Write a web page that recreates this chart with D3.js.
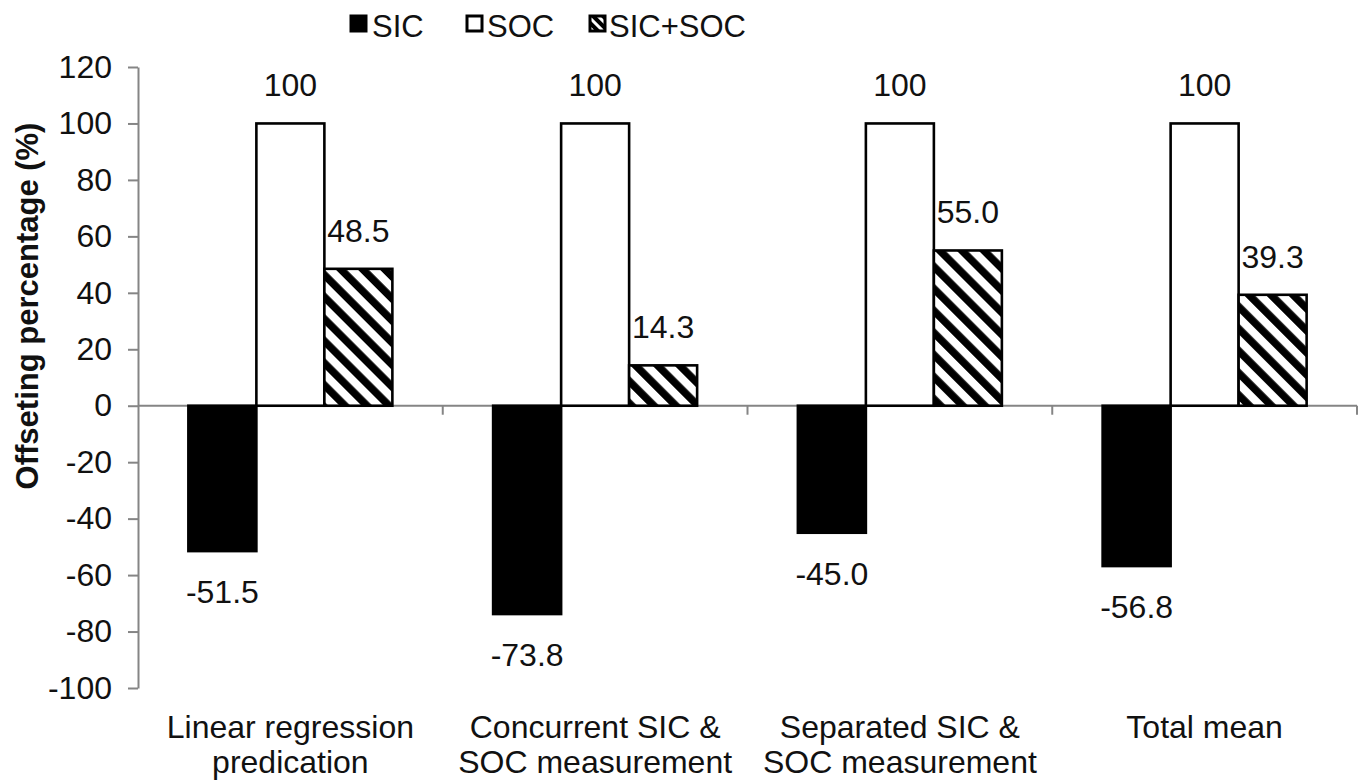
<!DOCTYPE html>
<html>
<head>
<meta charset="utf-8">
<script src="https://cdn.jsdelivr.net/npm/d3@7"></script>
<style>
  html, body { margin: 0; padding: 0; background: #fff; }
  svg { display: block; }
  text { font-family: "Liberation Sans", Arial, sans-serif; fill: #111; }
</style>
</head>
<body>
<svg id="chart" width="1360" height="782"></svg>
<script>
// Offsetting percentage by estimation approach
const categories = [
  ["Linear regression", "predication"],
  ["Concurrent SIC &", "SOC measurement"],
  ["Separated SIC &", "SOC measurement"],
  ["Total mean"]
];
const seriesNames = ["SIC", "SOC", "SIC+SOC"];
const sicValues = [-51.5, -73.8, -45.0, -56.8];
const socValues = [100, 100, 100, 100];
const sumValues = [48.5, 14.3, 55.0, 39.3];
const yTicks = [-100, -80, -60, -40, -20, 0, 20, 40, 60, 80, 100, 120];

const seriesValues = [sicValues, socValues, sumValues];

const svg = d3.select("#chart");
const plot = { left: 138, right: 1357, top: 67, bottom: 688 };
const axisColor = "#858585";

// hatch pattern for the combined series
const defs = svg.append("defs");
const pat = defs.append("pattern")
  .attr("id", "hatch")
  .attr("patternUnits", "userSpaceOnUse")
  .attr("width", 15.6).attr("height", 15.6)
  .attr("patternTransform", "rotate(-45)");
pat.append("rect").attr("width", 15.6).attr("height", 15.6).attr("fill", "#fff");
pat.append("rect").attr("x", 0).attr("y", 0).attr("width", 7.6).attr("height", 15.6).attr("fill", "#000");

const patS = defs.append("pattern")
  .attr("id", "hatchSmall")
  .attr("patternUnits", "userSpaceOnUse")
  .attr("width", 7).attr("height", 7)
  .attr("patternTransform", "rotate(-45)");
patS.append("rect").attr("width", 7).attr("height", 7).attr("fill", "#fff");
patS.append("rect").attr("width", 4).attr("height", 7).attr("fill", "#000");

const fills = { "SIC": "#000", "SOC": "#fff", "SIC+SOC": "url(#hatch)" };
const legendFills = { "SIC": "#000", "SOC": "#fff", "SIC+SOC": "url(#hatchSmall)" };

// plain hyphen for negative numbers
const fmtInt = d => String(d);
const fmt1 = d => d.toFixed(1);

const x = d3.scaleBand()
  .domain(d3.range(categories.length))
  .range([plot.left, plot.right])
  .padding(0);

const groupWidth = 204;
const xs = d3.scaleBand()
  .domain(seriesNames)
  .range([(x.bandwidth() - groupWidth) / 2, (x.bandwidth() + groupWidth) / 2])
  .padding(0);

const y = d3.scaleLinear().domain([-100, 120]).range([plot.bottom, plot.top]);

// y axis
const yAxis = svg.append("g")
  .attr("transform", `translate(${plot.left},0)`)
  .call(d3.axisLeft(y).tickValues(yTicks).tickFormat(fmtInt)
    .tickSize(10).tickPadding(16).tickSizeOuter(0));
yAxis.select(".domain").attr("stroke", axisColor).attr("stroke-width", 2);
yAxis.selectAll(".tick line").attr("stroke", axisColor).attr("stroke-width", 2);
yAxis.selectAll(".tick text")
  .style("font-size", "32px")
  .style("font-family", "'Liberation Sans', Arial, sans-serif")
  .attr("fill", "#111");

// x axis along zero line, ticks between categories
const boundaries = d3.range(categories.length + 1).map(i =>
  i < categories.length ? x(i) : x(i - 1) + x.bandwidth());
const xAxisG = svg.append("g");
xAxisG.append("line")
  .attr("x1", plot.left).attr("x2", plot.right)
  .attr("y1", y(0)).attr("y2", y(0))
  .attr("stroke", axisColor).attr("stroke-width", 2);
xAxisG.selectAll("line.sep")
  .data(boundaries.slice(1))
  .join("line")
  .attr("class", "sep")
  .attr("x1", d => d).attr("x2", d => d)
  .attr("y1", y(0)).attr("y2", y(0) + 9)
  .attr("stroke", axisColor).attr("stroke-width", 2);

// bars
const flat = [];
categories.forEach((c, i) => {
  seriesNames.forEach((s, j) => {
    flat.push({ cat: i, series: s, value: seriesValues[j][i] });
  });
});

svg.append("g").selectAll("rect")
  .data(flat)
  .join("rect")
  .attr("x", d => x(d.cat) + xs(d.series))
  .attr("width", xs.bandwidth())
  .attr("y", d => y(Math.max(0, d.value)))
  .attr("height", d => Math.abs(y(d.value) - y(0)))
  .attr("fill", d => fills[d.series])
  .attr("stroke", "#000")
  .attr("stroke-width", 2.6);

// value labels
svg.append("g").selectAll("text")
  .data(flat)
  .join("text")
  .attr("x", d => x(d.cat) + xs(d.series) + xs.bandwidth() / 2)
  .attr("y", d => d.value >= 0 ? y(d.value) - 27 : y(d.value) + 52)
  .attr("text-anchor", "middle")
  .style("font-size", "32px")
  .text(d => d.series === "SOC" ? fmtInt(d.value) : fmt1(d.value));

// category labels
const catG = svg.append("g");
categories.forEach((lines, i) => {
  const t = catG.append("text")
    .attr("x", x(i) + x.bandwidth() / 2)
    .attr("y", 738)
    .attr("text-anchor", "middle")
    .style("font-size", "32px");
  lines.forEach((ln, k) => {
    t.append("tspan")
      .attr("x", x(i) + x.bandwidth() / 2)
      .attr("dy", k === 0 ? 0 : 35)
      .text(ln);
  });
});

// y axis title
svg.append("text")
  .attr("transform", "translate(38,306) rotate(-90)")
  .attr("text-anchor", "middle")
  .style("font-size", "31px")
  .style("font-weight", "bold")
  .text("Offseting percentage (%)");

// legend
const legendItems = [
  { name: "SIC", sx: 351, tx: 372 },
  { name: "SOC", sx: 467, tx: 487 },
  { name: "SIC+SOC", sx: 590, tx: 609 }
];
const lg = svg.append("g");
legendItems.forEach(it => {
  lg.append("rect")
    .attr("x", it.sx).attr("y", 16)
    .attr("width", 15).attr("height", 15)
    .attr("fill", legendFills[it.name])
    .attr("stroke", "#000").attr("stroke-width", 3);
  lg.append("text")
    .attr("x", it.tx).attr("y", 37)
    .style("font-size", "31px")
    .text(it.name);
});
</script>
</body>
</html>
